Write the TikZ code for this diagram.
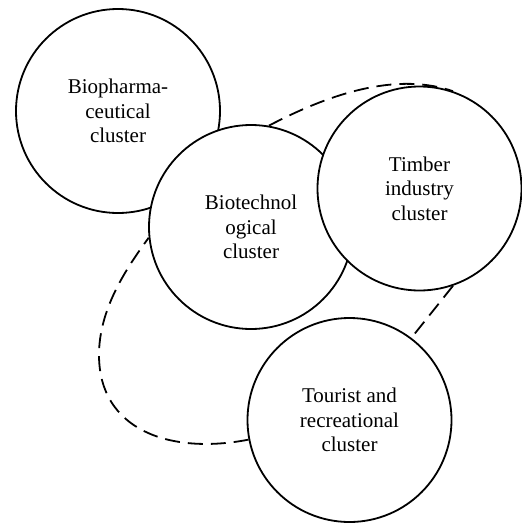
\documentclass[tikz,border=0pt]{standalone}
\usepackage{fontspec}
\setmainfont{Liberation Serif}
\newfontfamily\clusterfont{Liberation Serif}
\usepackage{tikz}
\usetikzlibrary{shapes,positioning,backgrounds}
\tikzstyle{cluster} = [circle, draw=black, line width=1.8pt, fill=white,
    minimum size=204pt, inner sep=0pt, align=center,
    font=\clusterfont\fontsize{21}{24.5}\selectfont]
\tikzstyle{linkloop} = [draw=black, line width=1.8pt, dash pattern=on 15pt off 8pt]

\begin{document}
\begin{tikzpicture}[x=1pt,y=-1pt]
\useasboundingbox (0,0) rectangle (522,523);
\node[cluster] (pharma) at (118,111) {Biopharma-\\ceutical\\cluster};
\node[cluster] (biotech) at (251,227) {Biotechnol\\ogical\\cluster};
\node[cluster] (timber) at (419.5,188.5) {Timber\\industry\\cluster};
\node[cluster] (tourist) at (349.5,420) {Tourist and\\recreational\\cluster};

% dashed loop behind the clusters
\begin{pgfonlayer}{background}
\draw[linkloop] (biotech.80) .. controls (337,90) and (400,73) .. (timber.71);
\draw[linkloop] (timber.-71) -- (tourist.53);
\draw[linkloop] (tourist.191) .. controls (170,455) and (99,430) .. (99,355)
    .. controls (99,310) and (125,270) .. (biotech.186);
\end{pgfonlayer}
\end{tikzpicture}
\end{document}
